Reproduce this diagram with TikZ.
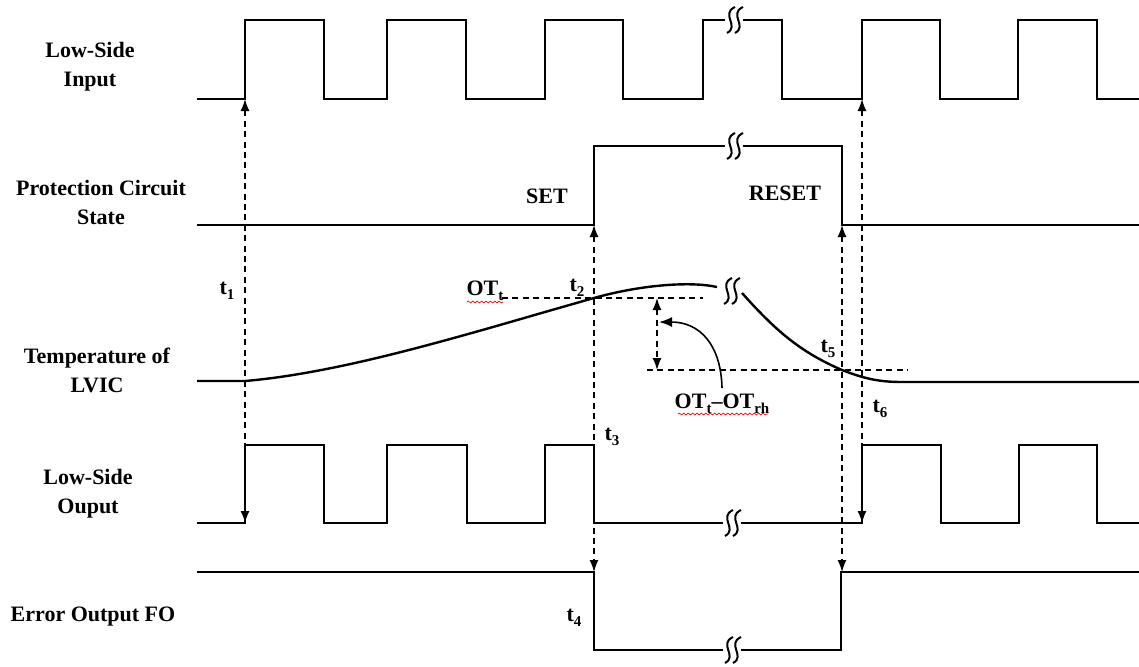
\documentclass[tikz,border=0pt]{standalone}
\usepackage{fontspec}
\setmainfont{Liberation Serif}
\usetikzlibrary{arrows.meta,decorations.pathmorphing}
\newcommand\tsb[2]{#1\raisebox{-0.5ex}{\fontsize{7.5}{8}\selectfont #2}}
\begin{document}
\begin{tikzpicture}[x=0.5pt,y=-0.5pt,
  wave/.style={line width=1.1pt},
  dasharrow/.style={dash pattern=on 3pt off 2.2pt, line width=0.7pt,
     {Latex[length=6pt,width=4.5pt]}-{Latex[length=6pt,width=4.5pt]}},
  dashline/.style={dash pattern=on 3pt off 2.2pt, line width=0.7pt},
  lbl/.style={font=\bfseries\fontsize{11}{14.5}\selectfont, align=center, inner sep=0pt},
  brk/.pic={
    \draw[line width=1pt] (1,-13) .. controls (-14,-6) and (6,6) .. (-7,13);
    \draw[line width=1pt] (9,-13) .. controls (-6,-6) and (14,6) .. (1,13);
  },
  squig/.style={red, line width=0.35pt, decorate,
     decoration={snake, amplitude=0.45pt, segment length=2.2pt}}
]
\useasboundingbox (0,0) rectangle (1139,666);

% ---- row labels
\node[lbl] (lIn)   at (90,67)   {Low-Side\\Input};
\node[lbl] (lProt) at (101,202) {Protection Circuit\\State};
\node[lbl] (lTemp) at (97,370)  {Temperature of\\LVIC};
\node[lbl] (lOut)  at (88,494)  {Low-Side\\Ouput};
\node[lbl] (lErr)  at (93,617)  {Error Output FO};

% ---- Low-Side Input
\draw[wave] (197,99) -- (245,99) -- (245,20) -- (324,20) -- (324,99) -- (387,99)
  -- (387,20) -- (466,20) -- (466,99) -- (545,99) -- (545,20) -- (623,20) -- (623,99)
  -- (703,99) -- (703,20) -- (725,20);
\draw[wave] (743,20) -- (782,20) -- (782,99) -- (862,99) -- (862,20) -- (940,20)
  -- (940,99) -- (1018,99) -- (1018,20) -- (1097,20) -- (1097,99) -- (1139,99);
\pic at (734,20) {brk};

% ---- Protection circuit state
\draw[wave] (197,225) -- (594,225) -- (594,146) -- (725,146);
\draw[wave] (743,146) -- (842,146) -- (842,225) -- (1139,225);
\pic at (734,146) {brk};
\node[lbl] (set)   at (547,196) {SET};
\node[lbl] (reset) at (785,193) {RESET};

% ---- Temperature
\draw[wave, line width=1.2pt] (197,381) -- (245,381)
  .. controls (350,372) and (480,330) .. (594,298)
  .. controls (640,285) and (690,281) .. (717,287);
\draw[wave, line width=1.2pt] (742,293) .. controls (775,330) and (800,352) .. (842,370)
  .. controls (870,381) and (885,382) .. (905,382) -- (1139,382);
\pic at (731,291) {brk};

\coordinate (otA) at (502,298);
\coordinate (otB) at (703,298);
\coordinate (rhA) at (647,370);
\coordinate (rhB) at (908,370);
\draw[dashline] (otA) -- (otB);
\draw[dashline] (rhA) -- (rhB);
\coordinate (hysT) at (657,298);
\coordinate (hysB) at (657,370);
\draw[dasharrow] (hysT) -- (hysB);

\node[lbl] (otT) at (485,291) {\tsb{OT}{t}};
\draw[squig] (467,302) -- (503,302);
\node[lbl] (otH) at (722,404) {\tsb{OT}{t}--\tsb{OT}{rh}};
\draw[squig] (678,414) -- (768,414);
\coordinate (cvS) at (722,388);
\coordinate (cvE) at (659,322);
\draw[line width=0.8pt, -{Latex[length=6.5pt,width=5pt]}] (cvS)
  .. controls (721,345) and (700,322) .. (cvE);

% ---- Low-Side Output
\draw[wave] (197,523) -- (245,523) -- (245,445) -- (324,445) -- (324,523) -- (387,523)
  -- (387,445) -- (467,445) -- (467,523) -- (545,523) -- (545,445) -- (594,445)
  -- (594,523) -- (723,523);
\draw[wave] (741,523) -- (862,523) -- (862,445) -- (941,445) -- (941,523) -- (1019,523)
  -- (1019,445) -- (1097,445) -- (1097,523) -- (1139,523);
\pic at (732,523) {brk};

% ---- Error output
\draw[wave] (197,572) -- (594,572) -- (594,650) -- (723,650);
\draw[wave] (741,650) -- (841,650) -- (841,572) -- (1139,572);
\pic at (732,650) {brk};

% ---- timing connectors
\coordinate (in1)  at (245,99);
\coordinate (out1) at (245,523);
\coordinate (pr3)  at (594,225);
\coordinate (er3)  at (594,572);
\coordinate (pr5)  at (842,225);
\coordinate (er5)  at (842,572);
\coordinate (in6)  at (862,99);
\coordinate (out6) at (862,523);
\draw[dasharrow] (in1) -- (out1);
\draw[dasharrow] (pr3) -- (er3);
\draw[dasharrow] (pr5) -- (er5);
\draw[dasharrow] (in6) -- (out6);

% ---- time labels
\node[lbl] (t1) at (227,291) {\tsb{t}{1}};
\node[lbl] (t2) at (577,288) {\tsb{t}{2}};
\node[lbl] (t3) at (612,437) {\tsb{t}{3}};
\node[lbl] (t4) at (574,618) {\tsb{t}{4}};
\node[lbl] (t5) at (828,349) {\tsb{t}{5}};
\node[lbl] (t6) at (880,409) {\tsb{t}{6}};
\end{tikzpicture}
\end{document}
